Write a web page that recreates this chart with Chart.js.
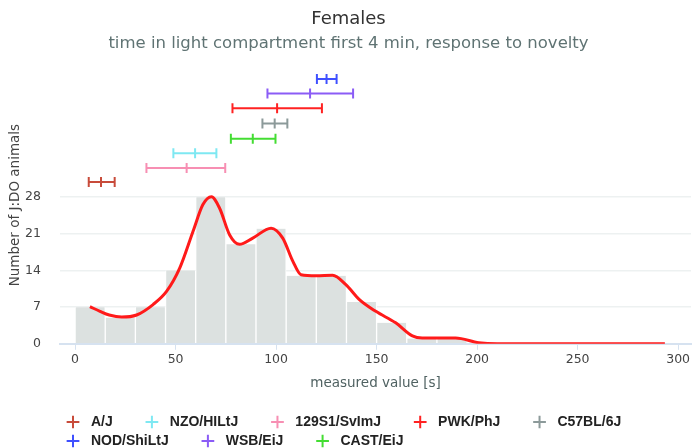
<!DOCTYPE html>
<html lang="en">
<head>
    <meta charset="UTF-8">
    <title>Females - time in light compartment</title>
    <script src="https://cdn.jsdelivr.net/npm/chart.js@4.4.1/dist/chart.umd.min.js"></script>
    <style>
        html, body {
            margin: 0;
            padding: 0;
            background: #fff;
        }
        #wrap {
            width: 698px;
            height: 448px;
        }
    </style>
</head>
<body>
    <div id="wrap"><canvas id="canvas"></canvas></div>

    <script>
        // Histogram: bins of 15 s
        const binCenters = [7.5, 22.5, 37.5, 52.5, 67.5, 82.5, 97.5, 112.5, 127.5, 142.5, 157.5, 172.5, 187.5];
        const binCounts = [7, 5, 7, 14, 28, 19, 22, 13, 13, 8, 4, 1, 1];

        // Density curve (scaled to counts)
        const curveX = [7.4, 12.4, 17, 23.2, 30.6, 38.8, 45.5, 52.1, 58.7, 63.6, 67.8, 71.9, 76.9, 81.8, 88.4, 97.5,
                        103.3, 108.3, 112.4, 120, 128.1, 134.7, 141.3, 149.6, 159.5, 167.8, 172.7, 180, 189.3, 200.8, 210, 250, 293.4];
        const curveY = [7.1, 6.2, 5.5, 5.1, 5.5, 7.5, 10.0, 14.5, 21.5, 26.6, 28.1, 25.9, 20.8, 19.0, 20.2, 22.1,
                        20.2, 15.8, 13.2, 13.0, 13.1, 11.3, 8.5, 6.2, 4.0, 1.5, 1.1, 1.1, 1.1, 0.2, 0, 0, 0];

        // Strain means with error bars
        const strains = ["A/J", "NZO/HILtJ", "129S1/SvImJ", "PWK/PhJ", "C57BL/6J", "NOD/ShiLtJ", "WSB/EiJ", "CAST/EiJ"];
        const strainLow = [6.8, 48.9, 35.5, 78.3, 93.2, 120.3, 95.7, 77.5];
        const strainMean = [12.9, 59.7, 55.5, 100.5, 99.3, 125.1, 116.9, 88.4];
        const strainHigh = [19.7, 70.3, 74.7, 122.8, 105.6, 130.1, 138.3, 99.7];
        const strainRow = [30.9, 36.4, 33.6, 45.0, 42.1, 50.6, 47.8, 39.2];
        const strainColors = ["#c84b3a", "#7ee8f2", "#f78fb3", "#ff2222", "#8c9a9a", "#3f50ff", "#8b5cf6", "#44dd33"];

        const xTicks = [0, 50, 100, 150, 200, 250, 300];
        const yTicks = [0, 7, 14, 21, 28];

        let datasets = [];
        datasets.push({
            type: 'bar',
            label: 'histogram',
            data: binCenters.map((x, i) => ({ x: x, y: binCounts[i] })),
            backgroundColor: '#dce1e0',
            borderColor: '#ffffff',
            borderWidth: { left: 1, right: 1, top: 0, bottom: 0 },
            borderSkipped: false,
            barPercentage: 1,
            categoryPercentage: 1,
            order: 2
        });
        datasets.push({
            type: 'line',
            label: 'density',
            data: curveX.map((x, i) => ({ x: x, y: curveY[i] })),
            borderColor: '#ff1a1a',
            borderWidth: 3,
            pointRadius: 0,
            cubicInterpolationMode: 'monotone',
            fill: false,
            order: 1
        });
        strains.forEach((name, i) => {
            datasets.push({
                type: 'line',
                label: name,
                data: [
                    { x: strainLow[i], y: strainRow[i] },
                    { x: strainMean[i], y: strainRow[i] },
                    { x: strainHigh[i], y: strainRow[i] }
                ],
                borderColor: strainColors[i],
                borderWidth: 2,
                pointStyle: 'line',
                pointRotation: 90,
                pointRadius: 5,
                pointBorderWidth: 2,
                pointBorderColor: strainColors[i],
                pointBackgroundColor: strainColors[i],
                fill: false,
                order: 0
            });
        });

        // legend rows start under the plot, a bit lower than the layout box
        const legendShift = {
            id: 'legendShift',
            afterLayout(chart) {
                chart.legend.left += 61;
                chart.legend.top += 10;
            }
        };

        Chart.defaults.font.family = "'DejaVu Sans', sans-serif";

        new Chart(document.getElementById('canvas'), {
            data: { datasets: datasets },
            plugins: [legendShift],
            options: {
                responsive: true,
                maintainAspectRatio: false,
                animation: false,
                layout: { padding: { left: 0, right: 1, top: 0, bottom: 0 } },
                scales: {
                    x: {
                        type: 'linear',
                        min: -7.5,
                        max: 306.4,
                        offset: false,
                        afterBuildTicks: axis => { axis.ticks = xTicks.map(v => ({ value: v })); },
                        grid: { offset: false, drawOnChartArea: false, drawTicks: true, tickLength: 6, color: '#d6e2f0', lineWidth: 1 },
                        border: { color: '#d6e2f0', width: 2 },
                        ticks: { color: '#444', font: { size: 12.5 }, padding: 2, maxRotation: 0 },
                        title: { display: true, text: 'measured value [s]', color: '#506262', font: { size: 13.5 }, padding: { top: 7, bottom: 8 } }
                    },
                    y: {
                        type: 'linear',
                        min: 0,
                        max: 53,
                        afterBuildTicks: axis => { axis.ticks = yTicks.map(v => ({ value: v })); },
                        afterFit: axis => { axis.width = 60; },
                        grid: { drawTicks: false, color: '#edf1f1', lineWidth: 1.5 },
                        border: { display: false },
                        ticks: { color: '#444', font: { size: 12.5 }, padding: 19 },
                        title: { display: true, text: 'Number of J:DO animals', color: '#444', font: { size: 13.5 }, padding: { top: 7, bottom: 3 } }
                    }
                },
                plugins: {
                    title: {
                        display: true,
                        text: 'Females',
                        color: '#333',
                        font: { size: 18, weight: 'normal' },
                        padding: { top: 9, bottom: 3 }
                    },
                    subtitle: {
                        display: true,
                        text: 'time in light compartment first 4 min, response to novelty',
                        color: '#5f7373',
                        font: { size: 16.5 },
                        padding: { top: 0, bottom: 13 }
                    },
                    legend: {
                        position: 'bottom',
                        align: 'start',
                        labels: {
                            filter: item => item.datasetIndex >= 2,
                            generateLabels: chart => {
                                const items = Chart.defaults.plugins.legend.labels.generateLabels(chart);
                                items.forEach(it => { it.text = '\u00a0' + it.text + '\u00a0\u00a0\u00a0\u00a0\u00a0\u00a0\u00a0'; });
                                return items;
                            },
                            usePointStyle: true,
                            pointStyle: 'cross',
                            boxHeight: 9,
                            padding: 5,
                            color: '#222',
                            font: { family: "'Liberation Sans', Arial, sans-serif", size: 14, weight: 'bold' }
                        }
                    },
                    tooltip: { enabled: false }
                }
            }
        });
    </script>
</body>
</html>
